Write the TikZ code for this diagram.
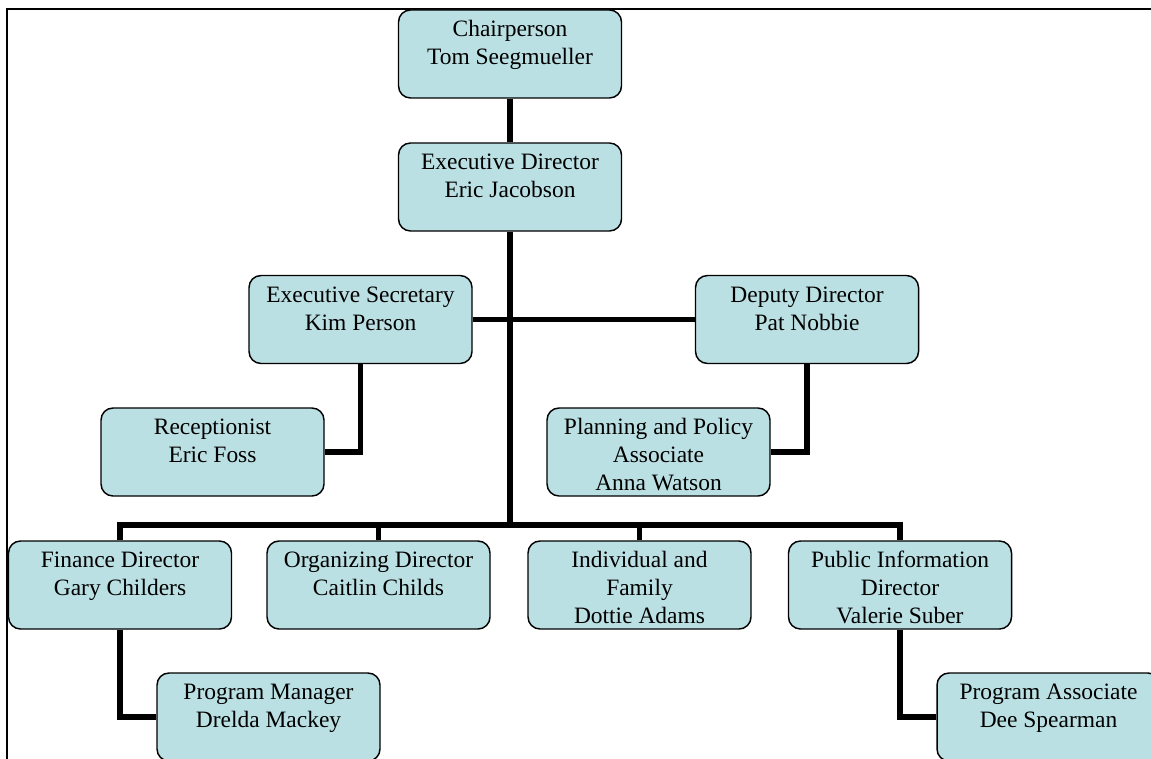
\documentclass[tikz,border=0pt]{standalone}
\usepackage{fontspec}
\setmainfont{Liberation Serif}
\usetikzlibrary{positioning}

\definecolor{boxfill}{RGB}{187,224,227}
\newcommand{\boxtext}[1]{\parbox[c][66pt][t]{167pt}{\centering\rule{0pt}{20pt}#1}}

\begin{document}
\begin{tikzpicture}[x=0.75pt, y=-0.75pt,
  staff/.style={draw=black, line width=1.1pt, fill=boxfill, rounded corners=9pt,
    inner sep=0pt, minimum width=167.25pt, minimum height=66pt,
    font=\fontsize{17.6}{21}\selectfont},
  link/.style={line width=3.9pt}]
\useasboundingbox (0,0) rectangle (1151,759);
\draw[line width=1.5pt] (7,759) -- (7,9.5) -- (1151,9.5);
\coordinate (bus) at (510,525);
\node[staff] (chair) at (510,54) {\boxtext{Chairperson\\Tom Seegmueller}};
\node[staff] (exec) at (510,187) {\boxtext{Executive Director\\Eric Jacobson}};
\node[staff] (secr) at (360.5,319.5) {\boxtext{Executive Secretary\\Kim Person}};
\node[staff] (deputy) at (807,319.5) {\boxtext{Deputy Director\\Pat Nobbie}};
\node[staff] (recep) at (212.5,452) {\boxtext{Receptionist\\Eric Foss}};
\node[staff] (plan) at (658.5,452) {\boxtext{Planning and Policy\\Associate\\Anna Watson}};
\node[staff] (finance) at (120,585) {\boxtext{Finance Director\\Gary Childers}};
\node[staff] (organ) at (378.5,585) {\boxtext{Organizing Director\\Caitlin Childs}};
\node[staff] (indiv) at (639.5,585) {\boxtext{Individual and\\Family\\Dottie Adams}};
\node[staff] (pubinfo) at (900,585) {\boxtext{Public Information\\Director\\Valerie Suber}};
\node[staff] (progman) at (268.5,717) {\boxtext{Program Manager\\Drelda Mackey}};
\node[staff] (progassoc) at (1048.5,717) {\boxtext{Program Associate\\Dee Spearman}};
% connectors
\draw[link] (chair.south) -- (exec.north);
\draw[link] (exec.south) -- (bus);
\draw[link] (secr.east) -- (deputy.west);
\draw[link] (secr.south) |- (recep.east);
\draw[link] (deputy.south) |- (plan.east);
\draw[link] (finance.north) |- (bus) -| (pubinfo.north);
\draw[link] (organ.north) -- (organ.north |- bus);
\draw[link] (indiv.north) -- (indiv.north |- bus);
\draw[link] (finance.south) |- (progman.west);
\draw[link] (pubinfo.south) |- (progassoc.west);
\end{tikzpicture}
\end{document}
